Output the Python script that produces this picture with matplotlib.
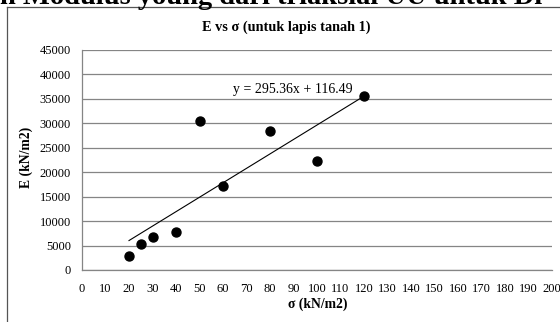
import numpy as np
import matplotlib
matplotlib.use('Agg')
import matplotlib.pyplot as plt
from matplotlib.lines import Line2D

# data
sigma = [20, 25, 30, 40, 50, 60, 80, 100, 120]
E = [2850, 5300, 6700, 7800, 30450, 17250, 28400, 22300, 35600]
slope, intercept = 295.36, 116.49
x_ticks = list(range(0, 201, 10))
y_ticks = list(range(0, 45001, 5000))

plt.rcParams['font.family'] = ['Liberation Serif', 'DejaVu Serif']

fig = plt.figure(figsize=(5.6, 3.22), dpi=100)
ax = fig.add_axes([82 / 560, 1 - 270 / 322, 470 / 560, 220 / 322])

# horizontal gridlines
ax.grid(True, axis='y', color='#858585', linewidth=0.9)
ax.set_axisbelow(True)

# points
ax.scatter(sigma, E, s=42, color='black', zorder=3)

# linear trendline
xt = np.array([min(sigma), max(sigma)])
ax.plot(xt, slope * xt + intercept, color='black', linewidth=0.8, zorder=2)
ax.text(89.8, 36850, f'y = {slope}x + {intercept}', fontsize=10,
        ha='center', va='center')

ax.set_xlim(0, 200)
ax.set_ylim(0, 45000)
ax.set_xticks(x_ticks)
ax.set_yticks(y_ticks)
ax.tick_params(length=0, labelsize=9, pad=8)
ax.tick_params(axis='x', pad=9)

for s in ['top', 'right']:
    ax.spines[s].set_visible(False)
for s in ['left', 'bottom']:
    ax.spines[s].set_color('#858585')
    ax.spines[s].set_linewidth(0.9)

ax.set_title('E vs σ (untuk lapis tanah 1)', fontsize=10.3, fontweight='bold',
             x=0.434, pad=14)
ax.set_xlabel('σ (kN/m2)', fontsize=9.8, fontweight='bold')
ax.set_ylabel('E (kN/m2)', fontsize=9.8, fontweight='bold')
ax.xaxis.set_label_coords(0.502, -0.127)
ax.yaxis.set_label_coords(-0.104, 0.514)

# chart area border (only left and top visible in the crop)
fig.add_artist(Line2D([7 / 560, 7 / 560], [0, 1 - 7 / 322], transform=fig.transFigure,
                      color='#555555', linewidth=0.9))
fig.add_artist(Line2D([7 / 560, 1], [1 - 7 / 322, 1 - 7 / 322], transform=fig.transFigure,
                      color='#555555', linewidth=0.9))

# header text of the page, cut off at the top
fig.text(0, 1 - 4 / 322, 'h Modulus young dari triaksial UU untuk Di',
         fontsize=20.5, fontweight='bold', ha='left', va='baseline')

fig.savefig('out.png', dpi=100)
